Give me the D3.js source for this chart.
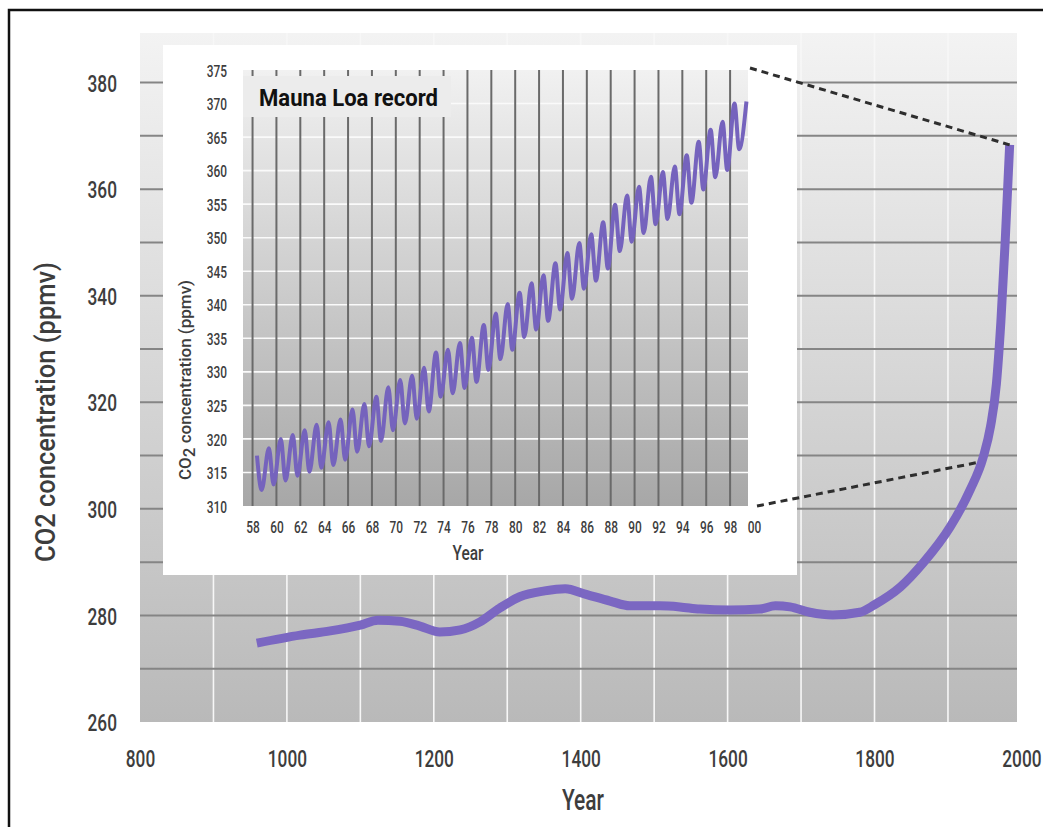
<!DOCTYPE html>
<html>
<head>
<meta charset="utf-8">
<script src="https://cdn.jsdelivr.net/npm/d3@7/dist/d3.min.js"></script>
<style>
  body { margin: 0; background: #fff; }
  text { font-family: Roboto, "DejaVu Sans", sans-serif; fill: #3d3d3d; }
</style>
</head>
<body>
<svg id="chart" width="1043" height="827"></svg>
<script>
// long record
var mainYears = [959, 1018, 1059, 1100, 1124, 1154, 1181, 1208, 1236, 1263, 1290, 1317, 1351, 1379, 1406, 1440, 1467, 1508, 1535, 1562, 1603, 1644, 1665, 1685, 1712, 1743, 1780, 1800, 1835, 1866, 1903, 1930, 1948, 1958, 1966, 1972, 1978, 1984]
var mainCO2 = [274.8, 276.3, 277.1, 278.2, 279.1, 278.9, 278.0, 276.9, 277.3, 278.8, 281.4, 283.5, 284.6, 285.0, 284.0, 282.7, 281.8, 281.8, 281.6, 281.2, 281.0, 281.2, 281.8, 281.6, 280.6, 280.1, 280.6, 282.0, 285.3, 289.8, 296.6, 303.5, 309.7, 315.5, 323.5, 335.0, 350.4, 368.3]
var mainTicksX = [800, 1000, 1200, 1400, 1600, 1800, 2000]
var mainTicksY = [260, 280, 300, 320, 340, 360, 380]
var mainGridY = [270, 280, 290, 300, 310, 320, 330, 340, 350, 360, 370, 380]
var mainGridX = [900, 1000, 1100, 1200, 1300, 1400, 1500, 1600, 1700, 1800, 1900]

// Mauna Loa inset: spring high and autumn low of each year
var mlYears = [1958, 1959, 1960, 1961, 1962, 1963, 1964, 1965, 1966, 1967, 1968, 1969, 1970, 1971, 1972, 1973, 1974, 1975, 1976, 1977, 1978, 1979, 1980, 1981, 1982, 1983, 1984, 1985, 1986, 1987, 1988, 1989, 1990, 1991, 1992, 1993, 1994, 1995, 1996, 1997, 1998, 1999]
var mlPeak = [317.5, 318.6, 320.0, 320.6, 321.3, 322.1, 322.5, 322.9, 324.4, 325.2, 326.3, 327.7, 328.8, 329.4, 330.6, 332.9, 333.3, 334.3, 335.1, 337.0, 338.7, 340.1, 341.8, 343.2, 344.4, 346.2, 347.7, 349.2, 350.5, 352.3, 354.9, 356.3, 357.6, 359.1, 359.8, 360.6, 362.3, 364.3, 366.1, 367.3, 370.0, 370.3]
var mlTrough = [312.4, 313.2, 313.8, 314.5, 315.1, 315.7, 316.1, 316.9, 318.1, 318.9, 319.7, 321.3, 322.3, 323.0, 324.1, 326.3, 326.8, 327.6, 328.5, 330.3, 331.9, 333.3, 335.2, 336.3, 337.6, 339.3, 340.9, 342.4, 343.6, 345.4, 348.0, 349.4, 350.7, 352.0, 352.8, 353.5, 355.2, 357.2, 359.0, 360.1, 363.2]
var mlTicksX = [1958, 1960, 1962, 1964, 1966, 1968, 1970, 1972, 1974, 1976, 1978, 1980, 1982, 1984, 1986, 1988, 1990, 1992, 1994, 1996, 1998, 2000]
var mlTickLabels = ['58', '60', '62', '64', '66', '68', '70', '72', '74', '76', '78', '80', '82', '84', '86', '88', '90', '92', '94', '96', '98', '00']
var mlTicksY = [310, 315, 320, 325, 330, 335, 340, 345, 350, 355, 360, 365, 370, 375]
var mlGridY = [315, 320, 325, 330, 335, 340, 345, 350, 355, 360, 365, 370]
var mlGridX = [1958, 1960, 1962, 1964, 1966, 1968, 1970, 1972, 1974, 1976, 1978, 1980, 1982, 1984, 1986, 1988, 1990, 1992, 1994, 1996, 1998]

var svg = d3.select('#chart')

var x = d3.scaleLinear().domain([800, 1994]).range([140, 1017])
var y = d3.scaleLinear().domain([260, 389.3]).range([722, 33])
var xi = d3.scaleLinear().domain([1957.2, 1999.5]).range([243, 748])
var yi = d3.scaleLinear().domain([310, 375]).range([506, 70])

var defs = svg.append('defs')
function vgrad(id, c0, c1) {
    var g = defs.append('linearGradient').attr('id', id)
        .attr('x1', 0).attr('y1', 0).attr('x2', 0).attr('y2', 1)
    g.append('stop').attr('offset', '0%').attr('stop-color', c0)
    g.append('stop').attr('offset', '100%').attr('stop-color', c1)
}
vgrad('mainBg', '#f3f3f3', '#b9b9b9')
vgrad('insetBg', '#f1f1f1', '#a7a7a7')

// frame
svg.append('path').attr('d', 'M9,827V10H1043')
    .attr('fill', 'none').attr('stroke', '#111').attr('stroke-width', 2.5)

// main plot background + grid
svg.append('rect')
    .attr('x', x(800)).attr('y', y(389.3))
    .attr('width', x(1994) - x(800)).attr('height', y(260) - y(389.3))
    .attr('fill', 'url(#mainBg)')

svg.selectAll('.vgrid').data(mainGridX).enter().append('line')
    .attr('x1', d => x(d)).attr('x2', d => x(d))
    .attr('y1', y(389.3)).attr('y2', y(260))
    .attr('stroke', '#f7f7f7').attr('stroke-width', 1.6)

svg.selectAll('.hgrid').data(mainGridY).enter().append('line')
    .attr('x1', x(800)).attr('x2', x(1994))
    .attr('y1', d => y(d)).attr('y2', d => y(d))
    .attr('stroke', '#858585').attr('stroke-width', 2)

var mainData = mainYears.map((yr, i) => ({yr: yr, v: mainCO2[i]}))
svg.append('path').datum(mainData)
    .attr('fill', 'none').attr('stroke', '#7b67c2').attr('stroke-width', 9)
    .attr('d', d3.line().x(d => x(d.yr)).y(d => y(d.v)).curve(d3.curveMonotoneX))

// main axes (labels only)
var ay = svg.append('g').attr('transform', 'translate(117,0)')
    .call(d3.axisLeft(y).tickValues(mainTicksY).tickSize(0).tickPadding(0))
var ax = svg.append('g').attr('transform', 'translate(0,758)')
    .call(d3.axisBottom(x).tickValues(mainTicksX).tickSize(0).tickPadding(0).tickFormat(d3.format('d')))
;[ay, ax].forEach(function(a) {
    a.select('.domain').remove()
    a.selectAll('text').attr('y', 0).attr('dy', '0.36em')
        .style('font-size', '24px').style('fill', '#3d3d3d').style('font-weight', 500)
        .attr('transform', 'scale(0.72,1)')
})

svg.append('text').text('Year')
    .attr('x', 583).attr('y', 800).attr('dy', '0.36em')
    .attr('text-anchor', 'middle').style('font-size', '29px').style('font-weight', 500)
    .attr('textLength', 42).attr('lengthAdjust', 'spacingAndGlyphs')

svg.append('text').text('CO2 concentration (ppmv)')
    .attr('transform', 'translate(45,412) rotate(-90)')
    .attr('dy', '0.36em').attr('text-anchor', 'middle')
    .style('font-size', '28px').style('font-weight', 500)
    .attr('textLength', 300).attr('lengthAdjust', 'spacingAndGlyphs')

// inset
svg.append('rect').attr('x', 163).attr('y', 45).attr('width', 634).attr('height', 530).attr('fill', '#fff')

svg.append('rect')
    .attr('x', xi(1957.2)).attr('y', yi(375))
    .attr('width', xi(1999.5) - xi(1957.2)).attr('height', yi(310) - yi(375))
    .attr('fill', 'url(#insetBg)')

svg.selectAll('.ihgrid').data(mlGridY).enter().append('line')
    .attr('x1', xi(1957.2)).attr('x2', xi(1999.5))
    .attr('y1', d => yi(d)).attr('y2', d => yi(d))
    .attr('stroke', '#fafafa').attr('stroke-width', 1.6)

svg.selectAll('.ivgrid').data(mlGridX).enter().append('line')
    .attr('x1', d => xi(d)).attr('x2', d => xi(d))
    .attr('y1', yi(375)).attr('y2', yi(310))
    .attr('stroke', '#6a6a6a').attr('stroke-width', 2)

// title patch over the top of the grid
svg.append('rect').attr('x', xi(1957.2)).attr('y', 76).attr('width', 208).attr('height', 41).attr('fill', '#ececec')
svg.append('text').text('Mauna Loa record')
    .attr('x', 259).attr('y', 98).attr('dy', '0.36em')
    .style('font-size', '23px').style('font-weight', 'bold').style('fill', '#111')
    .attr('textLength', 179).attr('lengthAdjust', 'spacingAndGlyphs')

var mlData = []
mlYears.forEach(function(yr, i) {
    mlData.push({t: yr + 0.37, v: mlPeak[i]})
    if (i < mlTrough.length) mlData.push({t: yr + 0.76, v: mlTrough[i]})
})
svg.append('path').datum(mlData)
    .attr('fill', 'none').attr('stroke', '#7563bd').attr('stroke-width', 4)
    .attr('d', d3.line().x(d => xi(d.t)).y(d => yi(d.v)).curve(d3.curveMonotoneX))

var iy = svg.append('g').attr('transform', 'translate(227,0)')
    .call(d3.axisLeft(yi).tickValues(mlTicksY).tickSize(0).tickPadding(0))
var ix = svg.append('g').attr('transform', 'translate(0,527)')
    .call(d3.axisBottom(xi).tickValues(mlTicksX).tickSize(0).tickPadding(0)
        .tickFormat((d, i) => mlTickLabels[i]))
;[iy, ix].forEach(function(a) {
    a.select('.domain').remove()
    a.selectAll('text').attr('y', 0).attr('dy', '0.36em')
        .style('font-size', '17px').style('fill', '#3d3d3d').style('font-weight', 500)
        .attr('transform', 'scale(0.7,1)')
})

svg.append('text').text('Year')
    .attr('x', 468).attr('y', 553).attr('dy', '0.36em')
    .attr('text-anchor', 'middle').style('font-size', '20px').style('font-weight', 500)
    .attr('textLength', 31).attr('lengthAdjust', 'spacingAndGlyphs')

var yt = svg.append('text')
    .attr('transform', 'translate(185,380) rotate(-90)')
    .attr('dy', '0.36em').attr('text-anchor', 'middle')
    .style('font-size', '17px').style('font-weight', 500)
    .attr('textLength', 200).attr('lengthAdjust', 'spacingAndGlyphs')
yt.append('tspan').text('CO')
yt.append('tspan').text('2').attr('dy', '0.25em')
yt.append('tspan').text(' concentration (ppmv)').attr('dy', '-0.25em')

// zoom guides from the inset to the modern part of the curve
var last = mainData[mainData.length - 1]
var guides = [
    [[xi(1999.5) + 2, yi(375) - 2], [x(last.yr), y(last.v)]],
    [[xi(1999.5) + 9, yi(310)], [x(1944), y(308.8)]]
]
svg.selectAll('.guide').data(guides).enter().append('path')
    .attr('d', d => d3.line()(d))
    .attr('stroke', '#2e2e2e').attr('stroke-width', 3).attr('stroke-dasharray', '7,5')
    .attr('fill', 'none')
</script>
</body>
</html>
